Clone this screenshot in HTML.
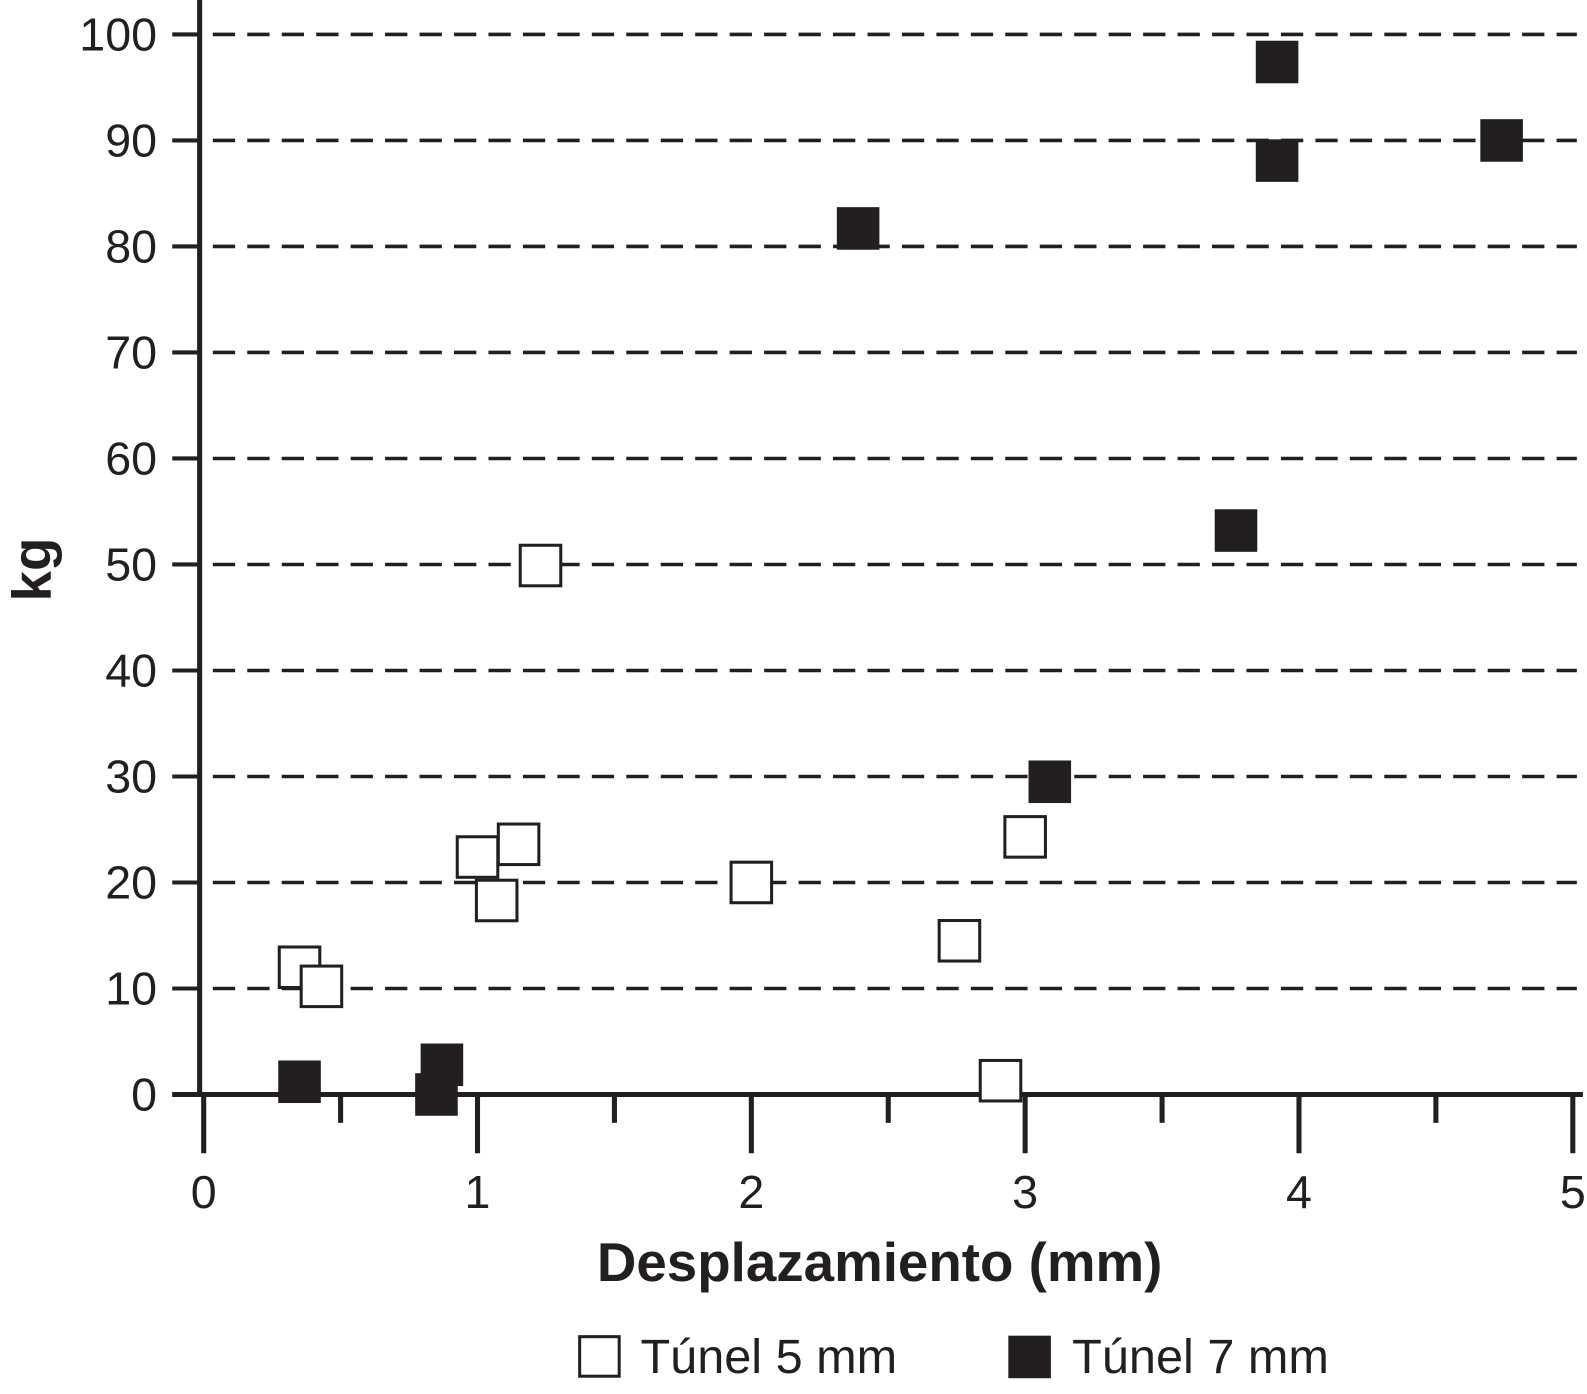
<!DOCTYPE html>
<html><head><meta charset="utf-8"><style>
html,body{margin:0;padding:0;background:#fff;}
svg{display:block;font-family:"Liberation Sans",Arial,sans-serif;}
</style></head><body>
<svg id="chart" width="1587" height="1394" viewBox="0 0 1587 1394">
<g transform="scale(1.0134)">
<g id="grid"></g>
<g id="axes"></g>
<g id="marks"></g>
<text x="868" y="1264" text-anchor="middle" font-size="54" font-weight="bold" fill="#231f20">Desplazamiento (mm)</text>
<text transform="translate(50,562) rotate(-90)" text-anchor="middle" font-size="54" font-weight="bold" fill="#231f20">kg</text>
<g>
<g>
<rect x="572" y="1319" width="39" height="39" fill="#fff" stroke="#231f20" stroke-width="3"/>
<text x="632" y="1355" font-size="48" fill="#231f20">Túnel 5 mm</text>
</g>
<g>
<rect x="995" y="1318" width="42" height="42" fill="#231f20"/>
<text x="1058" y="1355" font-size="48" fill="#231f20">Túnel 7 mm</text>
</g>
</g>
</g>
</svg>
<script>
const yTicks = [0,10,20,30,40,50,60,70,80,90,100];
const xTicks = [0,1,2,3,4,5];
const xHalfTicks = [0.5,1.5,2.5,3.5,4.5];
const open5x = [0.35,0.43,1.0,1.07,1.15,1.23,2.0,2.76,3.0,2.91];
const open5y = [12,10.2,22.4,18.3,23.6,49.9,20,14.5,24.3,1.3];
const fill7x = [0.35,0.87,0.85,2.39,3.92,3.92,4.74,3.77,3.09];
const fill7y = [1.2,2.8,0,81.7,97.4,88.1,90,53.2,29.5];

const NS='http://www.w3.org/2000/svg';
const X = v => 201 + v*270.2;
const Y = v => 1080 - v*10.46;
function mk(tag, attrs, parent){const e=document.createElementNS(NS,tag);for(const k in attrs)e.setAttribute(k,attrs[k]);parent.appendChild(e);return e;}
const grid=document.getElementById('grid'), axes=document.getElementById('axes'), marks=document.getElementById('marks');
const C='#231f20';
yTicks.forEach(t=>{
  if(t>0){
    const l=mk('line',{x1:210,x2:1556,y1:Y(t),y2:Y(t),stroke:C,'stroke-width':3.5,'stroke-dasharray':'22 12'},grid);
    
    
  }
  const tk=mk('line',{x1:170,x2:198,y1:Y(t),y2:Y(t),stroke:C,'stroke-width':4},axes);
  
  
  const tx=mk('text',{x:155,y:Y(t)+16,'text-anchor':'end','font-size':46,fill:C},axes);
  tx.textContent=t;
  
  
});
const ya=mk('line',{x1:197,x2:197,y1:0,y2:1082,stroke:C,'stroke-width':5},axes);


const xa=mk('line',{x1:170,x2:1562,y1:1080,y2:1080,stroke:C,'stroke-width':5},axes);


xTicks.forEach(t=>{
  const tk=mk('line',{x1:X(t),x2:X(t),y1:1080,y2:1138,stroke:C,'stroke-width':5},axes);
  
  
  const tx=mk('text',{x:X(t),y:1192,'text-anchor':'middle','font-size':46,fill:C},axes);
  tx.textContent=t;
  
  
});
xHalfTicks.forEach(t=>{
  const tk=mk('line',{x1:X(t),x2:X(t),y1:1080,y2:1108,stroke:C,'stroke-width':5},axes);
  
  
});
open5x.forEach((v,i)=>{
  const r=mk('rect',{x:X(v)-20,y:Y(open5y[i])-20,width:40,height:40,fill:'#fff',stroke:C,'stroke-width':3},marks);
  
  
});
fill7x.forEach((v,i)=>{
  const r=mk('rect',{x:X(v)-21,y:Y(fill7y[i])-21,width:42,height:42,fill:C},marks);
  
  
});
</script>
</body></html>
